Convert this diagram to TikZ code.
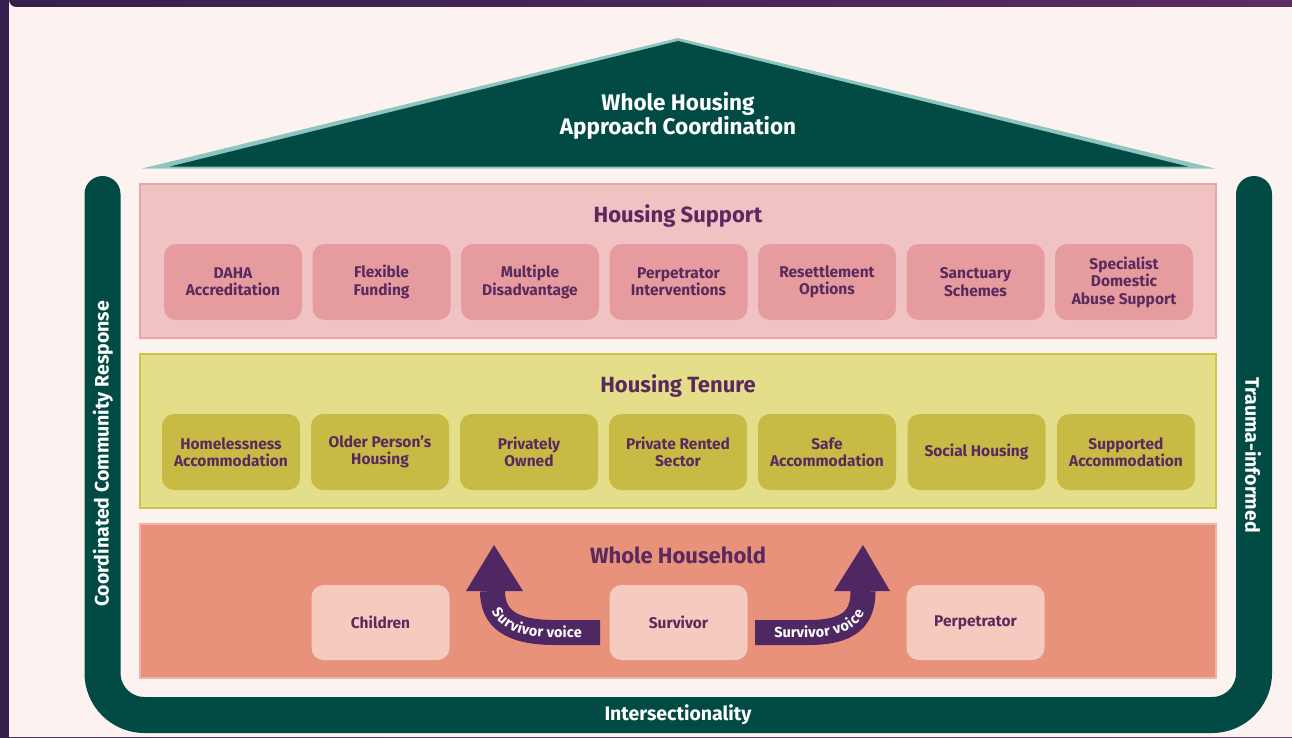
\documentclass[tikz,border=0pt]{standalone}
\usepackage{fontspec}
\setmainfont{Fira Sans}
\usetikzlibrary{decorations.text}
\definecolor{frameA}{HTML}{35204D}
\definecolor{frameB}{HTML}{5C2B62}
\definecolor{cream}{HTML}{FCF3F1}
\definecolor{teal}{HTML}{024B45}
\definecolor{teallt}{HTML}{8EC5BF}
\definecolor{txtp}{HTML}{5A2A5E}
\definecolor{supbg}{HTML}{F0C2C3}
\definecolor{supbd}{HTML}{E8A6A8}
\definecolor{supbx}{HTML}{E69C9E}
\definecolor{tenbg}{HTML}{E4DE8A}
\definecolor{tenbd}{HTML}{CEC44A}
\definecolor{tenbx}{HTML}{C8BB45}
\definecolor{hhbg}{HTML}{E8927C}
\definecolor{hhbd}{HTML}{F0B4A2}
\definecolor{hhbx}{HTML}{F5CBC0}
\definecolor{arrowc}{HTML}{4F2762}
\tikzset{
  layer/.style={line width=2pt, minimum width=1076pt, minimum height=154pt, inner sep=0pt},
  cardbox/.style={rounded corners=12pt, minimum width=138pt, minimum height=76pt, align=center,
    text=txtp, font=\fontsize{15.5}{17.5}\selectfont\bfseries, inner sep=0pt},
  title/.style={text=txtp, font=\fontsize{22}{25}\selectfont\bfseries, inner sep=0pt},
  pillartext/.style={text=white, font=\fontsize{19.5}{22}\selectfont\bfseries, inner sep=0pt},
  voice/.style={line width=25pt, draw=arrowc},
  voicetext/.style={decorate, decoration={text along path, text align=center, raise=-5pt,
    text={|\color{white}\fontsize{14.5}{14.5}\selectfont\bfseries|Survivor voice}}}
}
\begin{document}
\begin{tikzpicture}[x=1pt,y=-1pt]
\useasboundingbox (0,0) rectangle (1292,737);
% frame and background
\shade[left color=frameA, right color=frameB] (0,0) rectangle (1292,737);
\fill[cream] (1292,7) -- (16,7) arc[start angle=90, end angle=180, radius=7] -- (9,737) -- (1292,737) -- cycle;
% roof
\fill[teallt] (142,168.5) -- (678,38) -- (1215,168.5) -- cycle;
\fill[teal] (170,166.5) -- (678,41) -- (1188,166.5) -- cycle;
\node[text=white, font=\fontsize{22.5}{23.5}\selectfont\bfseries, align=center, inner sep=0pt] (roof) at (678,116) {Whole Housing\\Approach Coordination};
% pillars (U shape)
\draw[teal, line width=36pt, line cap=round, rounded corners=42pt] (102.5,194) -- (102.5,715) -- (1254,715) -- (1254,194);
\node[pillartext, rotate=90] (ccr) at (103,454) {Coordinated Community Response};
\node[pillartext, rotate=-90] (ti) at (1253,455) {Trauma-informed};
\node[pillartext] (inter) at (678,715) {Intersectionality};
% layers
\node[layer, fill=supbg, draw=supbd] (sup) at (678,261) {};
\node[layer, fill=tenbg, draw=tenbd] (ten) at (678,431) {};
\node[layer, fill=hhbg, draw=hhbd] (hh) at (678,601) {};
\node[title] (supt) at (678,216) {Housing Support};
\node[title] (tent) at (678,386) {Housing Tenure};
\node[title] (hht) at (678,555) {Whole Household};
% housing support cards
\node[cardbox, fill=supbx] (s1) at (233,282) {DAHA\\Accreditation};
\node[cardbox, fill=supbx] (s2) at (381.5,282) {Flexible\\Funding};
\node[cardbox, fill=supbx] (s3) at (530,282) {Multiple\\Disadvantage};
\node[cardbox, fill=supbx] (s4) at (678.5,282) {Perpetrator\\Interventions};
\node[cardbox, fill=supbx] (s5) at (827,282) {Resettlement\\Options};
\node[cardbox, fill=supbx] (s6) at (975.5,282) {Sanctuary\\Schemes};
\node[cardbox, fill=supbx] (s7) at (1124,282) {Specialist\\Domestic\\Abuse Support};
% housing tenure cards
\node[cardbox, fill=tenbx] (t1) at (231,452) {Homelessness\\Accommodation};
\node[cardbox, fill=tenbx] (t2) at (380,452) {Older Person’s\\Housing};
\node[cardbox, fill=tenbx] (t3) at (529,452) {Privately\\Owned};
\node[cardbox, fill=tenbx] (t4) at (678,452) {Private Rented\\Sector};
\node[cardbox, fill=tenbx] (t5) at (827,452) {Safe\\Accommodation};
\node[cardbox, fill=tenbx] (t6) at (976.5,452) {Social Housing};
\node[cardbox, fill=tenbx] (t7) at (1126,452) {Supported\\Accommodation};
% household cards
\node[cardbox, fill=hhbx, minimum height=75pt] (chi) at (380.5,622.5) {Children};
\node[cardbox, fill=hhbx, minimum height=75pt] (surv) at (678.5,622.5) {Survivor};
\node[cardbox, fill=hhbx, minimum height=75pt] (perp) at (975.5,622.5) {Perpetrator};
% survivor voice arrows
\coordinate (la) at (600,632.5);
\coordinate (lb) at (492.5,591);
\coordinate (lh) at (494,545);
\coordinate (ra) at (755,632.5);
\coordinate (rb) at (863,591);
\coordinate (rh) at (863,545);
\draw[voice] (la) -- (555,632.5) .. controls (510,632.5) and (492.5,618) .. (lb);
\fill[arrowc] (466,591) -- (lh) -- (523,591) -- cycle;
\path[voicetext] (lb) .. controls (492.5,618) and (510,632.5) .. (555,632.5) -- (la);
\draw[voice] (ra) -- (808,632.5) .. controls (850,632.5) and (863,618) .. (rb);
\fill[arrowc] (834,591) -- (rh) -- (890,591) -- cycle;
\path[voicetext] (ra) -- (808,632.5) .. controls (850,632.5) and (863,618) .. (rb);
\end{tikzpicture}
\end{document}
